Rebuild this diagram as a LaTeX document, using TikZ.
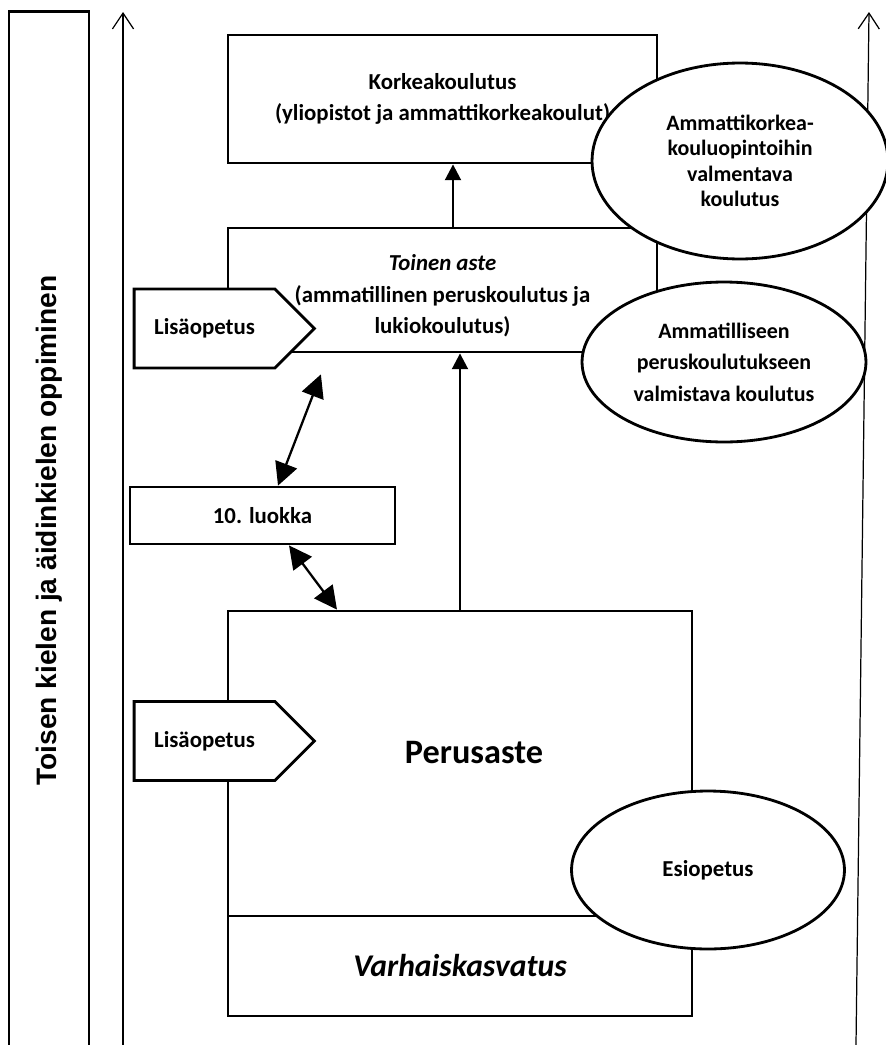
\documentclass[tikz,border=0pt]{standalone}
\usepackage{fontspec}
\setmainfont{Carlito}
\newfontfamily\arialbold{LiberationSans-Bold}[Extension=.ttf]
\usetikzlibrary{arrows.meta, shapes.geometric, shapes.symbols}

\begin{document}
\begin{tikzpicture}[
        x=0.02cm, y=-0.02cm,
        box/.style={draw, rectangle, line width=1.6pt, fill=white, align=center, inner sep=0pt, font=\bfseries\fontsize{13}{18}\selectfont},
        oval/.style={draw, ellipse, line width=1.6pt, fill=white, align=center, inner sep=0pt, font=\bfseries\fontsize{12.5}{14.5}\selectfont},
        lisa/.style={draw, signal, signal to=east, signal pointer angle=90, line width=1.6pt, fill=white, inner xsep=0.4cm, inner ysep=0pt, minimum height=1.58cm, font=\bfseries\fontsize{13}{16}\selectfont},
        axis/.style={-{Straight Barb[length=9pt,width=12pt]}, line width=0.7pt},
        arrow/.style={-{Triangle[length=9pt,width=9pt]}, line width=1.5pt},
        biarrow/.style={{Triangle[length=13pt,width=13pt]}-{Triangle[length=13pt,width=13pt]}, line width=1.3pt}
    ]
        \useasboundingbox (0,0) rectangle (886,1045);

        % side frame with the vertical label
        \node[draw, line width=1.6pt, rotate=90, minimum width=20.78cm, minimum height=1.6cm, font=\arialbold\fontsize{16}{19}\selectfont] (kieli) at (49,530.5) {Toisen kielen ja äidinkielen oppiminen};

        % long axis arrows
        \coordinate (lbot) at (123,1045);
        \coordinate (ltop) at (123,12);
        \coordinate (rbot) at (856,1045);
        \coordinate (rtop) at (869,12);
        \draw[axis] (lbot) -- (ltop);
        \draw[axis] (rbot) -- (rtop);

        % levels
        \node[box, minimum width=8.58cm, minimum height=2.56cm] (korkea) at (442.5,99) {Korkeakoulutus\\(yliopistot ja ammattikorkeakoulut)};
        \node[box, minimum width=8.58cm, minimum height=2.48cm] (toinen) at (442.5,290) {};
        \node[font=\bfseries\fontsize{13}{18}\selectfont, align=center] (toinentxt) at (442.5,296) {\textit{Toinen aste}\\(ammatillinen peruskoulutus ja\\lukiokoulutus)};
        \node[box, minimum width=5.3cm, minimum height=1.14cm] (luokka) at (262.5,515.5) {10. luokka};
        \node[box, minimum width=9.28cm, minimum height=6.1cm] (perus) at (460,763.5) {};
        \node[font=\bfseries\fontsize{19.5}{22}\selectfont] (perustxt) at (474,753) {Perusaste};
        \node[box, minimum width=9.28cm, minimum height=2.0cm, font=\bfseries\itshape\fontsize{18}{22}\selectfont] (varhais) at (460,966) {Varhaiskasvatus};

        \draw[arrow] (toinen.north -| 453,0) -- (korkea.south -| 453,0);
        \draw[arrow] (perus.north -| 460,0) -- (toinen.south -| 460,0);
        \draw[biarrow, shorten >=0.45cm] (luokka.north -| 278,0) -- (toinen.south -| 329,0);
        \draw[biarrow] (luokka.south -| 289,0) -- (perus.north -| 337,0);

        \node[lisa] (lisa1) at (204.5,328.5) {Lisäopetus};
        \node[lisa] (lisa2) at (204.5,741) {Lisäopetus};

        % side programmes
        \node[oval, minimum width=5.92cm, minimum height=3.92cm] (amk) at (740,161) {Ammattikorkea-\\kouluopintoihin\\valmentava\\koulutus};
        \node[oval, minimum width=5.68cm, minimum height=3.2cm, font=\bfseries\fontsize{12.5}{18}\selectfont] (ammval) at (724,362) {Ammatilliseen\\peruskoulutukseen\\valmistava koulutus};
        \node[oval, minimum width=5.46cm, minimum height=3.16cm, font=\bfseries\fontsize{13}{16}\selectfont] (esi) at (708,870) {Esiopetus};

    \end{tikzpicture}
\end{document}
